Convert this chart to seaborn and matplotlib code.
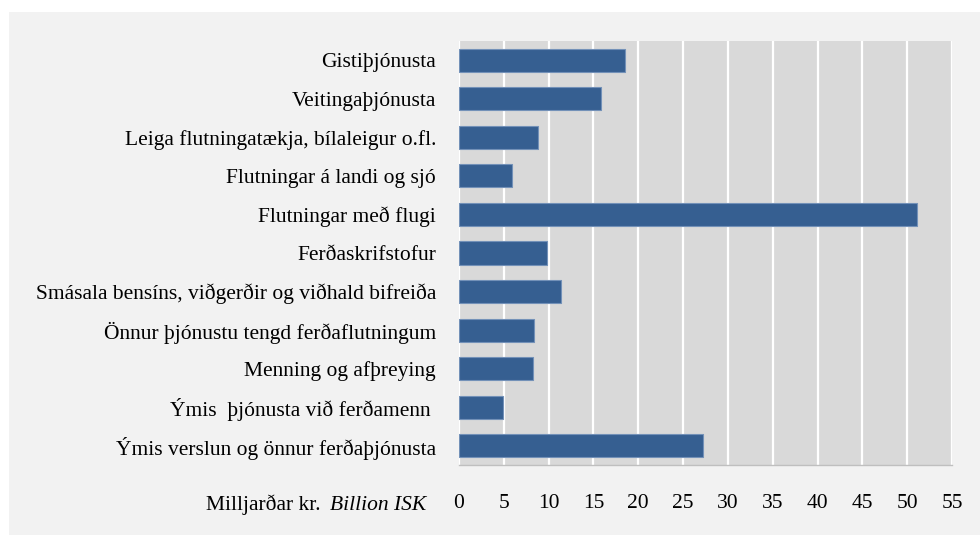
import matplotlib
matplotlib.use("Agg")
import matplotlib.pyplot as plt
import seaborn as sns
import pandas as pd
from matplotlib.patches import Rectangle

categories = [
    "Gistiþjónusta",
    "Veitingaþjónusta",
    "Leiga flutningatækja, bílaleigur o.fl.",
    "Flutningar á landi og sjó",
    "Flutningar með flugi",
    "Ferðaskrifstofur",
    "Smásala bensíns, viðgerðir og viðhald bifreiða",
    "Önnur þjónustu tengd ferðaflutningum",
    "Menning og afþreying",
    "Ýmis  þjónusta við ferðamenn ",
    "Ýmis verslun og önnur ferðaþjónusta",
]
values = [18.5, 15.8, 8.8, 5.9, 51.1, 9.8, 11.4, 8.4, 8.3, 4.9, 27.2]
xticks = [0, 5, 10, 15, 20, 25, 30, 35, 40, 45, 50, 55]

df = pd.DataFrame({"cat": categories, "val": values})

sns.set_theme(style="white")
plt.rcParams["font.family"] = ["Liberation Serif", "DejaVu Serif"]
plt.rcParams["text.color"] = "black"

fig = plt.figure(figsize=(9.8, 5.35), dpi=100)
fig.patch.set_facecolor("white")
fig.patches.append(Rectangle((9 / 980, 0), 1, 1 - 12 / 535, transform=fig.transFigure,
                             facecolor="#f2f2f2", edgecolor="none", zorder=-10))

ax = fig.add_axes([459 / 980, 70 / 535, 493 / 980, 424 / 535])
ax.set_facecolor("#d9d9d9")

sns.barplot(data=df, x="val", y="cat", orient="h", color="#365f91", width=0.6,
            edgecolor="#7391b8", linewidth=0.8, saturation=1, ax=ax, zorder=3)

ax.set_xlim(0, 55)
ax.set_ylim(10.5, -0.5)
ax.set_xticks(xticks)
ax.set_xticklabels([str(t) for t in xticks])
ax.xaxis.grid(True, color="white", linewidth=1.6, zorder=1)
ax.yaxis.grid(False)
ax.set_axisbelow(True)
for s in ["top", "right", "left"]:
    ax.spines[s].set_visible(False)
ax.spines["bottom"].set_color("#bfbfbf")
ax.spines["bottom"].set_linewidth(1.0)
ax.tick_params(axis="x", length=0, pad=21, labelsize=15.5, colors="black")
ax.tick_params(axis="y", length=0, pad=16.5, labelsize=15.5, colors="black")
ax.set_xlabel("")
ax.set_ylabel("")

fig.text(426 / 980, 1 - 505 / 535, "Billion ISK", ha="right", va="center",
         fontsize=15.5, style="italic", color="black")
fig.text(321 / 980, 1 - 505 / 535, "Milljarðar kr.", ha="right", va="center",
         fontsize=15.5, color="black")

fig.savefig("out.png", dpi=100, facecolor=fig.get_facecolor())
